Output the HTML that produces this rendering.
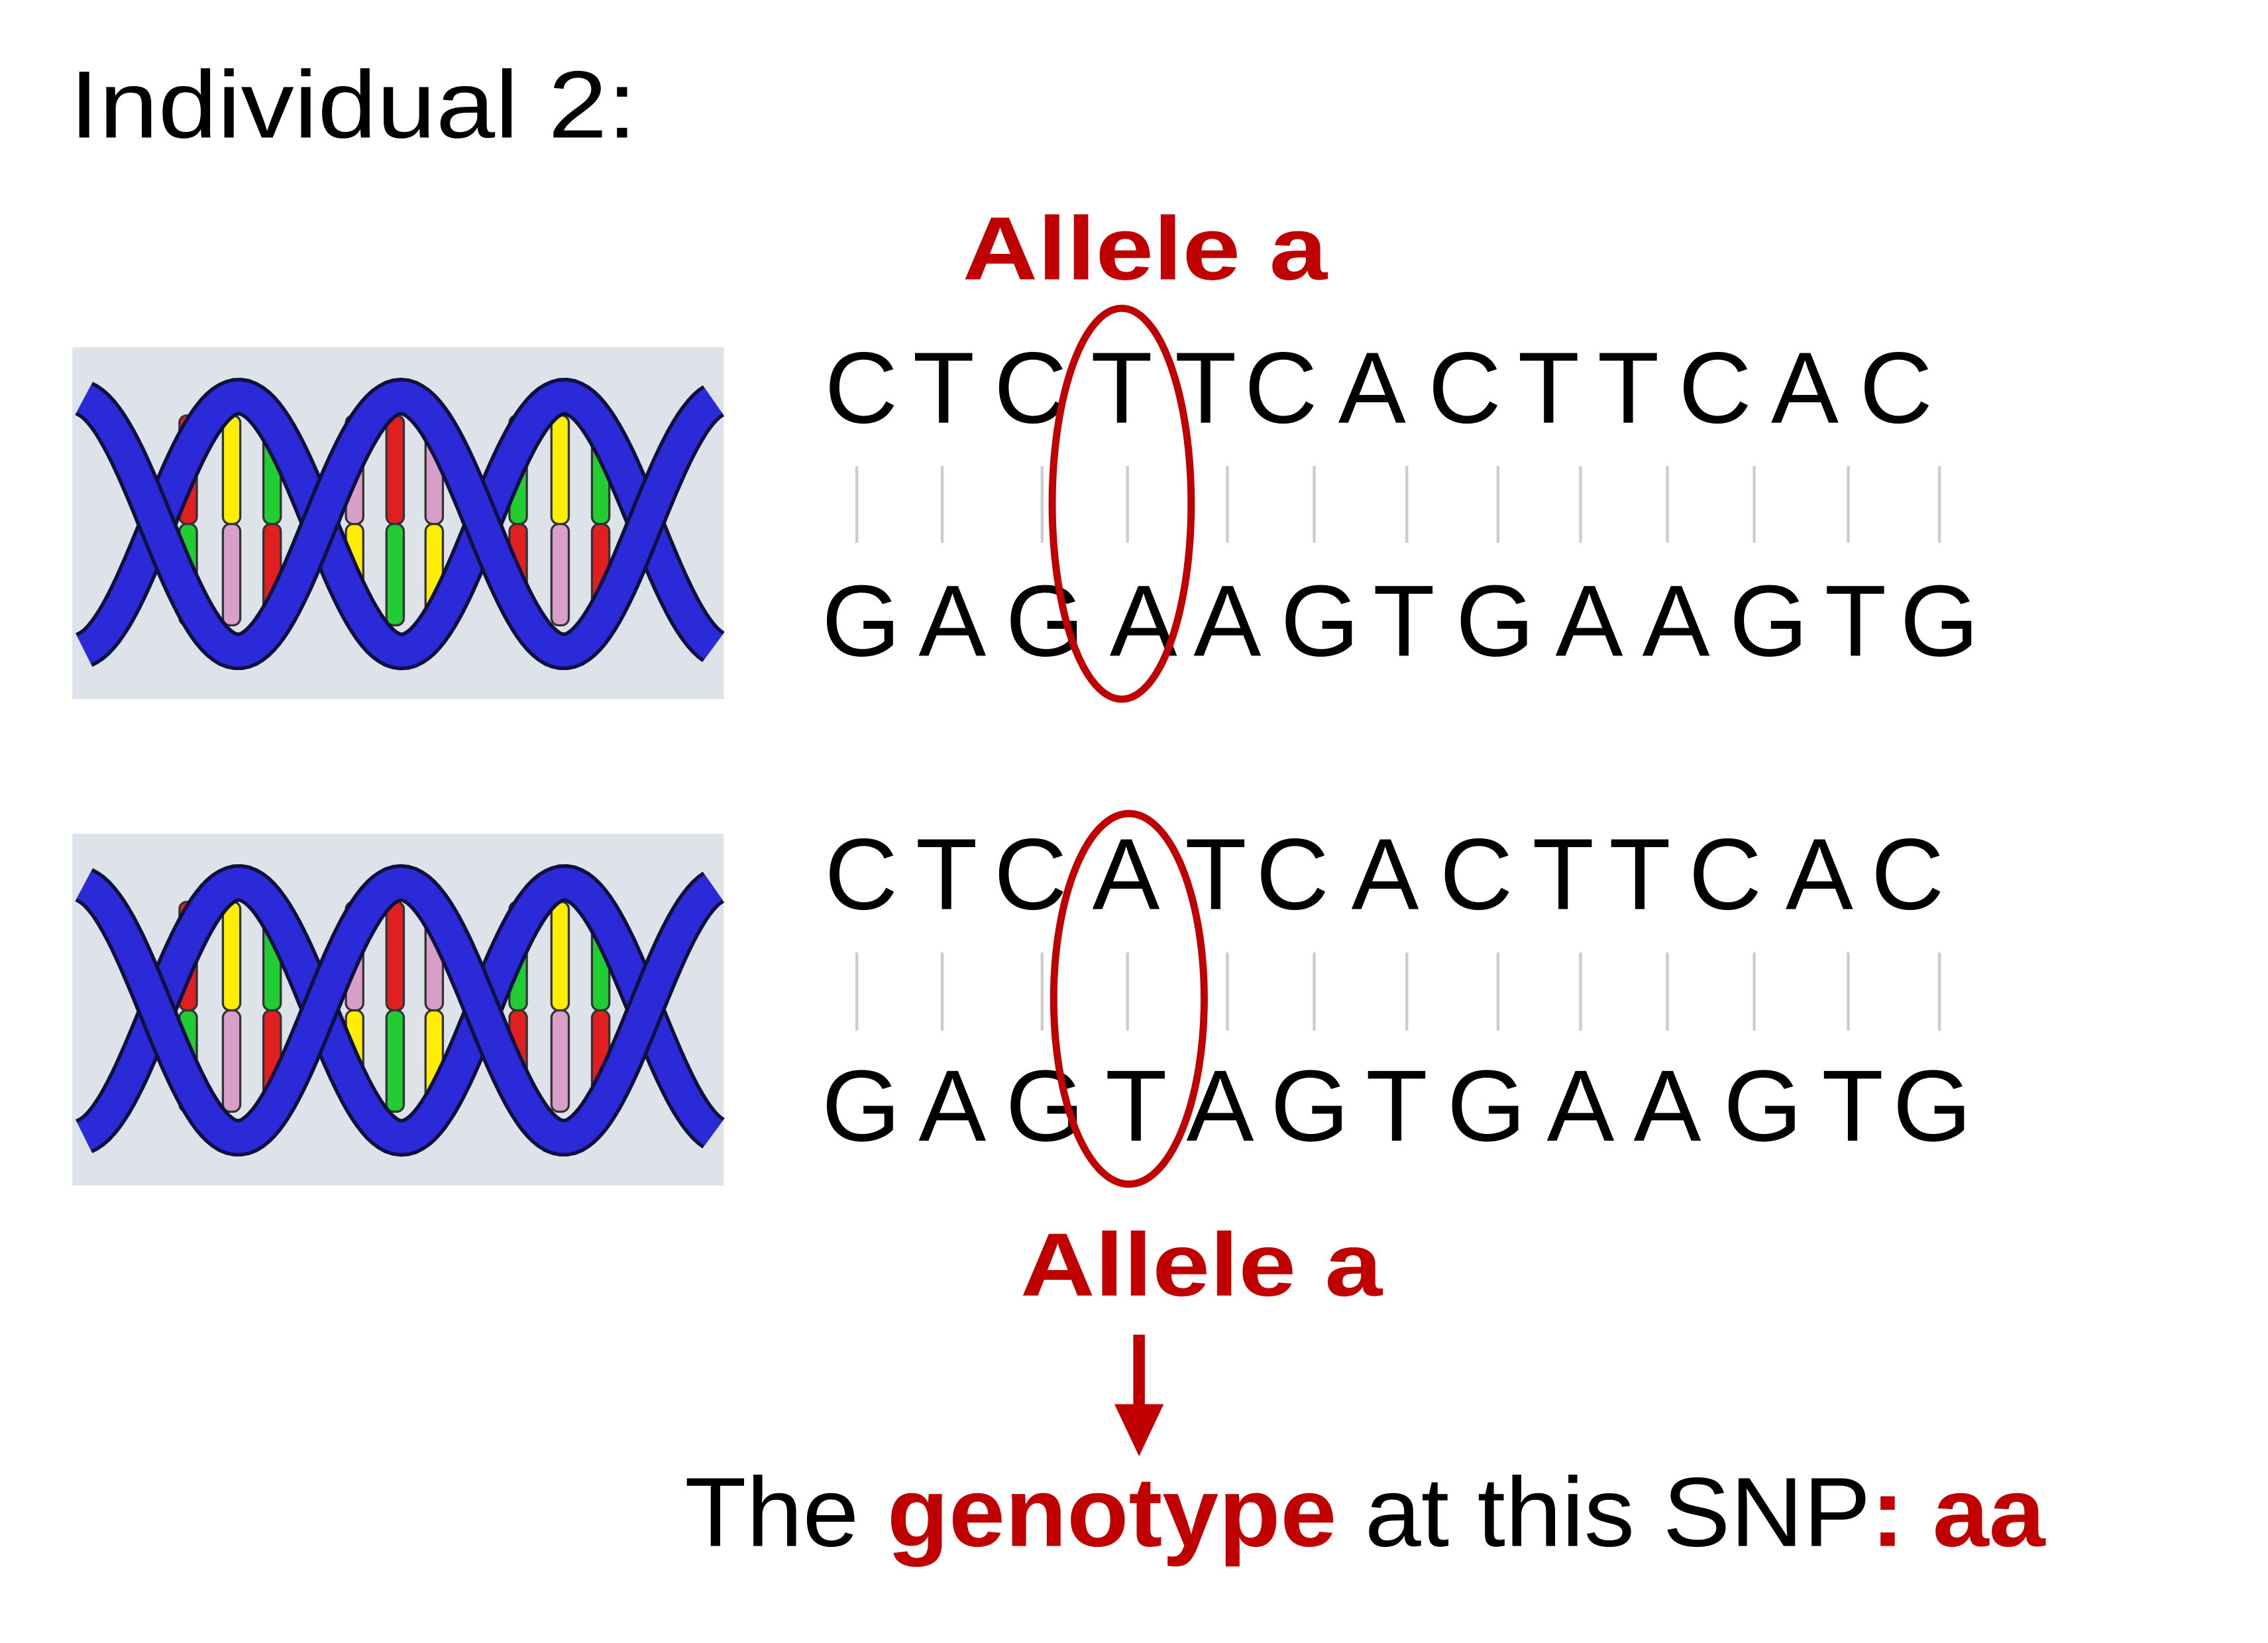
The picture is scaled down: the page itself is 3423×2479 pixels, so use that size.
<!DOCTYPE html>
<html><head><meta charset="utf-8"><style>
html,body{margin:0;padding:0;background:#fff;}
svg{display:block;}
text{font-family:"Liberation Sans",sans-serif;}
</style></head><body>
<svg id="root" width="3423" height="2479" viewBox="0 0 1567 1135" preserveAspectRatio="none" xmlns="http://www.w3.org/2000/svg">
<rect width="1567" height="1135" fill="#fff"/>
<text x="48" y="95" font-size="66" textLength="392" lengthAdjust="spacingAndGlyphs">Individual 2:</text>
<text x="665" y="193" font-size="62" font-weight="bold" fill="#c00000" textLength="252" lengthAdjust="spacingAndGlyphs">Allele a</text>
<g id="dna1"></g>
<g id="dna2"></g>
<g id="seqs"></g>
<ellipse cx="775" cy="348" rx="48" ry="135" fill="none" stroke="#c00000" stroke-width="5"/>
<ellipse cx="780" cy="690" rx="52" ry="128" fill="none" stroke="#c00000" stroke-width="5"/>
<text x="705" y="895" font-size="62" font-weight="bold" fill="#c00000" textLength="250" lengthAdjust="spacingAndGlyphs">Allele a</text>
<g>
<rect x="783" y="922" width="8" height="52" fill="#c00000"/>
<polygon points="770,970 804,970 787,1006" fill="#c00000"/>
</g>
<text x="473" y="1068" font-size="68" textLength="940" lengthAdjust="spacingAndGlyphs">The <tspan fill="#c00000" font-weight="bold">genotype</tspan> at this SNP<tspan fill="#c00000" font-weight="bold">: aa</tspan></text>
</svg>
<script>
const NS="http://www.w3.org/2000/svg";
function mk(tag,attrs,parent){const e=document.createElementNS(NS,tag);for(const k in attrs)e.setAttribute(k,attrs[k]);parent.appendChild(e);return e;}
const rows=[
 {letters:"CTCTTCACTTCAC",xs:[595,652,712,775,833,885,948,1012,1070,1125,1185,1247,1310],y:292},
 {letters:"GAGAAGTGAAGTG",xs:[595,658,722,790,848,912,970,1033,1098,1158,1222,1282,1340],y:453},
 {letters:"CTCATCACTTCAC",xs:[595,654,712,778,840,893,957,1020,1080,1133,1192,1257,1318],y:628},
 {letters:"GAGTAGTGAAGTG",xs:[595,658,722,785,843,905,965,1027,1092,1152,1218,1280,1335],y:788}
];
const seqs=document.getElementById('seqs');
rows.forEach((r,ri)=>{
 for(let i=0;i<r.letters.length;i++){
  const t=mk('text',{x:r.xs[i],y:r.y,'font-size':70,'text-anchor':'middle',fill:'#000'},seqs);
  
  
  t.textContent=r.letters[i];
 }
});
const lineXs=[592,651,720,779,848,908,972,1035,1092,1152,1212,1277,1340];
[[322,375],[658,712]].forEach(([y1,y2])=>{
 lineXs.forEach(x=>{
  const l=mk('line',{x1:x,x2:x,y1:y1,y2:y2,stroke:'#cccccc','stroke-width':2},seqs);
  
  
 });
});
function helix(g,top){
 mk('rect',{x:50,y:top,width:450,height:243,fill:'#dde3e8'},g);
 const cy=top+122, amp=88, per=225;
 const bars=[[130,'#e02020','#22cc33'],[160,'#ffee00','#d8a0c8'],[188,'#22cc33','#e02020'],[245,'#d8a0c8','#ffee00'],[273,'#e02020','#22cc33'],[300,'#d8a0c8','#ffee00'],[358,'#22cc33','#e02020'],[387,'#ffee00','#d8a0c8'],[415,'#22cc33','#e02020']];
 bars.forEach(([x,c1,c2])=>{
  mk('rect',{x:x-6,y:cy-75,width:12,height:75,fill:c1,stroke:'#333','stroke-width':1.5,rx:5},g);
  mk('rect',{x:x-6,y:cy,width:12,height:70,fill:c2,stroke:'#333','stroke-width':1.5,rx:5},g);
 });
 [0,112].forEach(ph=>{
  let d='';
  for(let x=58;x<=495;x+=3){const y=cy-amp*Math.cos(2*Math.PI*(x-165-ph)/per);d+=(x===58?'M':'L')+x+' '+y.toFixed(1);}
  mk('path',{d:d,fill:'none',stroke:'#101040','stroke-width':26},g);
  mk('path',{d:d,fill:'none',stroke:'#2a2ad8','stroke-width':21},g);
 });
}
helix(document.getElementById('dna1'),240);
helix(document.getElementById('dna2'),576);
</script>
</body></html>
